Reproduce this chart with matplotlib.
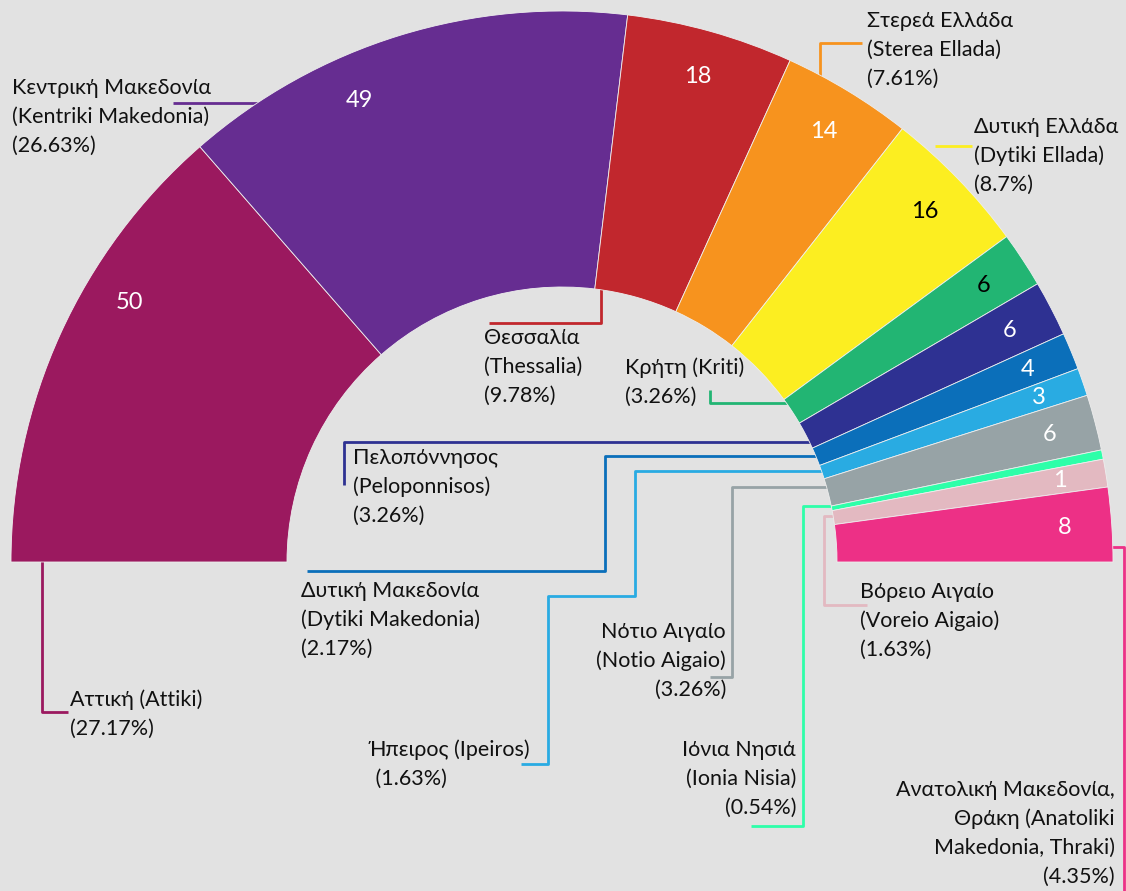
import matplotlib
matplotlib.use("Agg")
import matplotlib.pyplot as plt
import numpy as np

plt.rcParams['font.family'] = ['Lato', 'DejaVu Sans']

# Έδρες ανά περιφέρεια (σύνολο 184)
regions = ['Αττική (Attiki)', 'Κεντρική Μακεδονία', 'Θεσσαλία', 'Στερεά Ελλάδα',
           'Δυτική Ελλάδα', 'Κρήτη', 'Πελοπόννησος', 'Δυτική Μακεδονία', 'Ήπειρος',
           'Νότιο Αιγαίο', 'Ιόνια Νησιά', 'Βόρειο Αιγαίο', 'Ανατολική Μακεδονία, Θράκη']
seats = [50, 49, 18, 14, 16, 6, 6, 4, 3, 6, 1, 3, 8]
# τα νούμερα όπως φαίνονται πάνω στα κομμάτια (το μικρό ροζ γράφει "1")
seat_text = ['50', '49', '18', '14', '16', '6', '6', '4', '3', '6', '', '1', '8']
label_lines = [
    ['Αττική (Attiki)', '(27.17%)'],
    ['Κεντρική Μακεδονία', '(Kentriki Makedonia)', '(26.63%)'],
    ['Θεσσαλία', '(Thessalia)', '(9.78%)'],
    ['Στερεά Ελλάδα', '(Sterea Ellada)', '(7.61%)'],
    ['Δυτική Ελλάδα', '(Dytiki Ellada)', '(8.7%)'],
    ['Κρήτη (Kriti)', '(3.26%)'],
    ['Πελοπόννησος', '(Peloponnisos)', '(3.26%)'],
    ['Δυτική Μακεδονία', '(Dytiki Makedonia)', '(2.17%)'],
    ['Ήπειρος (Ipeiros)', ' (1.63%)'],
    ['Νότιο Αιγαίο', '(Notio Aigaio)', '(3.26%)'],
    ['Ιόνια Νησιά', '(Ionia Nisia)', '(0.54%)'],
    ['Βόρειο Αιγαίο', '(Voreio Aigaio)', '(1.63%)'],
    ['Ανατολική Μακεδονία,', 'Θράκη (Anatoliki', 'Makedonia, Thraki)', '(4.35%)'],
]

colors = ['#9b195f', '#662d91', '#c1272d', '#f7931e', '#fcee21', '#22b573', '#2e3192',
          '#0b6fba', '#29abe2', '#97a3a6', '#2effa9', '#e3b9c1', '#ed3086']
num_colors = ['white', 'white', 'white', 'white', 'black', 'black', 'white',
              'white', 'white', 'white', 'white', 'white', 'white']

W, H = 1126, 891
cx, cy = 562, 562      # κέντρο σε pixels
R, ring = 551, 276

# θέσεις ετικετών (pixels): στοίχιση, x, y πρώτης γραμμής
label_pos = [('left', 70, 700), ('left', 12, 88), ('left', 484, 338), ('left', 867, 21),
             ('left', 974, 127), ('left', 625, 368), ('left', 353, 458), ('left', 301, 591),
             ('left', 370, 750), ('right', 726, 632), ('right', 796, 750), ('left', 860, 592),
             ('right', 1115, 790)]
leaders = [
    [(42, 555), (42, 712), (68, 712)],
    [(262, 103), (173, 103)],
    [(601, 280), (601, 323), (489, 323)],
    [(820, 80), (820, 43), (862, 43)],
    [(935, 146), (972, 146)],
    [(795, 403), (710, 403), (710, 390)],
    [(820, 442), (344, 442), (344, 485)],
    [(825, 456), (605, 456), (605, 571), (307, 571)],
    [(830, 471), (635, 471), (635, 596), (548, 596), (548, 764), (521, 764)],
    [(836, 487), (732, 487), (732, 677), (710, 677)],
    [(840, 506), (803, 506), (803, 826), (751, 826)],
    [(842, 516), (824, 516), (824, 605), (867, 605)],
    [(1105, 547), (1124, 547), (1124, 900)],
]
angle_nudge = [-6.5, 6.6, 0, 0, 0, 0, 0, 0, 0, 0, 0, 0, 0]

fig = plt.figure(figsize=(W / 100, H / 100), dpi=100)
fig.patch.set_facecolor('#e2e2e2')
ax = fig.add_axes([0, 0, 1, 1])
ax.set_facecolor('#e2e2e2')

# κρυφό μισό κάτω για να βγει ημικύκλιο
wedges, _ = ax.pie(seats + [sum(seats)], colors=colors + ['none'], startangle=180,
                   counterclock=False, radius=R, center=(cx, H - cy),
                   wedgeprops=dict(width=ring, edgecolor='#eeeeee', linewidth=0.6, zorder=3))
wedges[-1].set_edgecolor('none')

# νούμερα εδρών
for w, t, c, nudge in zip(wedges[:-1], seat_text, num_colors, angle_nudge):
    mid = np.deg2rad((w.theta1 + w.theta2) / 2 + nudge)
    rr = R * 0.915
    ax.text(cx + rr * np.cos(mid), (H - cy) + rr * np.sin(mid), t, color=c,
            fontsize=17, ha='center', va='center', zorder=5)

# γραμμές οδηγοί
for pts, c in zip(leaders, colors):
    xs = [p[0] for p in pts]
    ys = [H - p[1] for p in pts]
    ax.plot(xs, ys, color=c, linewidth=2, zorder=1, solid_capstyle='butt')

# ετικέτες
for lines, (ha, x, y) in zip(label_lines, label_pos):
    for i, line in enumerate(lines):
        ax.text(x, H - (y + 29 * i), line, ha=ha, va='center', fontsize=15.5,
                color='#111111', zorder=6)

ax.set_xlim(0, W)
ax.set_ylim(0, H)
ax.set_aspect('auto')
ax.axis('off')

fig.savefig('out.png', dpi=100, facecolor=fig.get_facecolor())
